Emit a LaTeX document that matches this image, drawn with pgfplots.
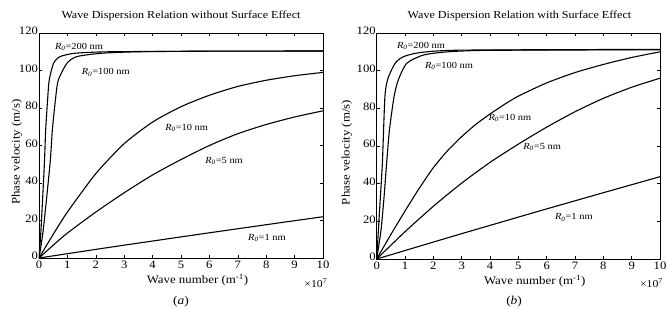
\documentclass[border=0pt]{standalone}
\usepackage{fontspec}
\setmainfont{Liberation Serif}[FakeStretch=1.12]
\usepackage{pgfplots}
\pgfplotsset{compat=1.18}
\newcommand{\Rlab}[1]{\textit{R}\textsubscript{\textit{0}}=#1 nm}
\tikzset{lab/.style={font=\fontsize{9.3}{10}\selectfont, anchor=west, inner sep=0pt}}
\pgfplotsset{
  mystyle/.style={
    scale only axis,
    xmin=0, xmax=10, ymin=0, ymax=120,
    xtick={0,1,...,10}, ytick={0,20,...,120},
    tick align=inside, major tick length=3pt,
    axis line style={line width=0.7pt},
    every tick/.style={black, line width=0.6pt},
    /pgf/number format/assume math mode=true,
    tick label style={font=\fontsize{11.3}{12}\selectfont},
    yticklabel style={xshift=2.5pt, yshift=2pt},
    xticklabel style={yshift=0.3pt},
    title style={font=\fontsize{10.8}{12}\selectfont, anchor=center, yshift=0pt},
    every axis x label/.style={font=\fontsize{11.5}{13}\selectfont, anchor=center, at={(0.558,-0.098)}},
    every axis y label/.style={font=\fontsize{11.5}{13}\selectfont, anchor=center, rotate=90},
    clip mode=individual,
    cycle list={{black}},
    every axis plot post/.append style={black, line width=1.1pt, no marks, smooth, tension=0.4},
  }
}
\begin{document}
\begin{tikzpicture}
\useasboundingbox (0,0) rectangle (667pt,309pt);
% ---------------- (a) ----------------
\begin{axis}[mystyle, at={(39pt,51pt)}, anchor=south west, width=284pt, height=225pt,
  title={Wave Dispersion Relation without Surface Effect},
  title style={at={(0.5,1.049)}},
  xlabel={Wave number (m\textsuperscript{-1})},
  ylabel={Phase velocity (m/s)},
  every axis y label/.append style={at={(-0.0775,0.471)}}]
% R0 = 1 nm
\addplot coordinates {(0,0) (1,2.3) (2,4.6) (3,6.85) (4,9.05) (5,11.25) (6,13.45) (7,15.6) (8,17.75) (9,19.9) (10,22)};
% R0 = 5 nm
\addplot coordinates {(0,0) (0.5,6.8) (1,13.3) (2,24.5) (3,34.8) (4,44.3) (5,52.5) (6,60) (7,66.3) (8,71.2) (9,75.2) (10,78.5)};
% R0 = 10 nm
\addplot coordinates {(0,0) (0.5,12.6) (1,24.5) (2,45) (3,61) (4,72.5) (5,80.7) (6,86.8) (7,91.5) (8,94.8) (9,97.2) (10,99)};
% R0 = 100 nm
\addplot coordinates {(0,0) (0.15,15) (0.39,50.5) (0.47,68.3) (0.59,86) (0.68,94.9) (0.98,103.8) (1.33,107.4) (2.2,109.2) (3.5,110) (6,110.3) (10,110.4)};
% R0 = 200 nm
\addplot coordinates {(0,0) (0.07,15) (0.19,50.5) (0.235,68.3) (0.31,86) (0.36,94.9) (0.51,103.8) (0.74,107.4) (1.27,109.2) (2.5,110) (6,110.3) (10,110.4)};
\node[lab] at (axis cs:0.56,112.5) {\Rlab{200}};
\node[lab] at (axis cs:1.5,99) {\Rlab{100}};
\node[lab] at (axis cs:4.44,69.3) {\Rlab{10}};
\node[lab] at (axis cs:5.85,51.9) {\Rlab{5}};
\node[lab] at (axis cs:7.36,10.7) {\Rlab{1}};
\node[font=\fontsize{10.5}{12}\selectfont] at (rel axis cs:0.975,-0.111) {\texttimes10\textsuperscript{7}};
\node[font=\fontsize{12}{14}\selectfont] at (rel axis cs:0.5,-0.196) {(\textit{a})};
\end{axis}
% ---------------- (b) ----------------
\begin{axis}[mystyle, at={(376.7pt,50pt)}, anchor=south west, width=283.3pt, height=226pt,
  title={Wave Dispersion Relation with Surface Effect},
  title style={at={(0.504,1.049)}},
  xlabel={Wave number (m\textsuperscript{-1})},
  ylabel={Phase velocity (m/s)},
  every axis y label/.append style={at={(-0.105,0.471)}}]
% R0 = 1 nm
\addplot coordinates {(0,0) (1,4.5) (2,9) (3,13.45) (4,17.85) (5,22.25) (6,26.6) (7,30.9) (8,35.2) (9,39.45) (10,43.7)};
% R0 = 5 nm
\addplot coordinates {(0,0) (1,14.5) (2,28) (3,40.3) (4,51.3) (5,61) (6,70) (7,78.2) (8,85.3) (9,91.2) (10,96)};
% R0 = 10 nm
\addplot coordinates {(0,0) (0.5,13) (1,25.5) (1.5,37.5) (2,48.5) (2.5,57.5) (3,65) (3.5,71.5) (4,77) (4.5,82) (5,86.5) (6,93.5) (7,99) (8,103.3) (9,107) (10,110)};
% R0 = 100 nm
\addplot coordinates {(0,0) (0.15,15) (0.26,33) (0.35,50.8) (0.45,68.5) (0.61,86) (0.76,95) (1.06,103.9) (1.65,108.3) (2.5,110) (4,110.8) (10,111.1)};
% R0 = 200 nm
\addplot coordinates {(0,0) (0.094,24) (0.2,50.8) (0.29,86.2) (0.4,96) (0.65,103.9) (0.94,107.4) (1.53,109.6) (3,110.9) (10,111.3)};
\node[lab] at (axis cs:0.71,113) {\Rlab{200}};
\node[lab] at (axis cs:1.7,102.5) {\Rlab{100}};
\node[lab] at (axis cs:3.94,74.7) {\Rlab{10}};
\node[lab] at (axis cs:5.17,59.6) {\Rlab{5}};
\node[lab] at (axis cs:6.29,22.1) {\Rlab{1}};
\node[font=\fontsize{10.5}{12}\selectfont] at (rel axis cs:0.970,-0.106) {\texttimes10\textsuperscript{7}};
\node[font=\fontsize{12}{14}\selectfont] at (rel axis cs:0.485,-0.19) {(\textit{b})};
\end{axis}
\end{tikzpicture}
\end{document}
